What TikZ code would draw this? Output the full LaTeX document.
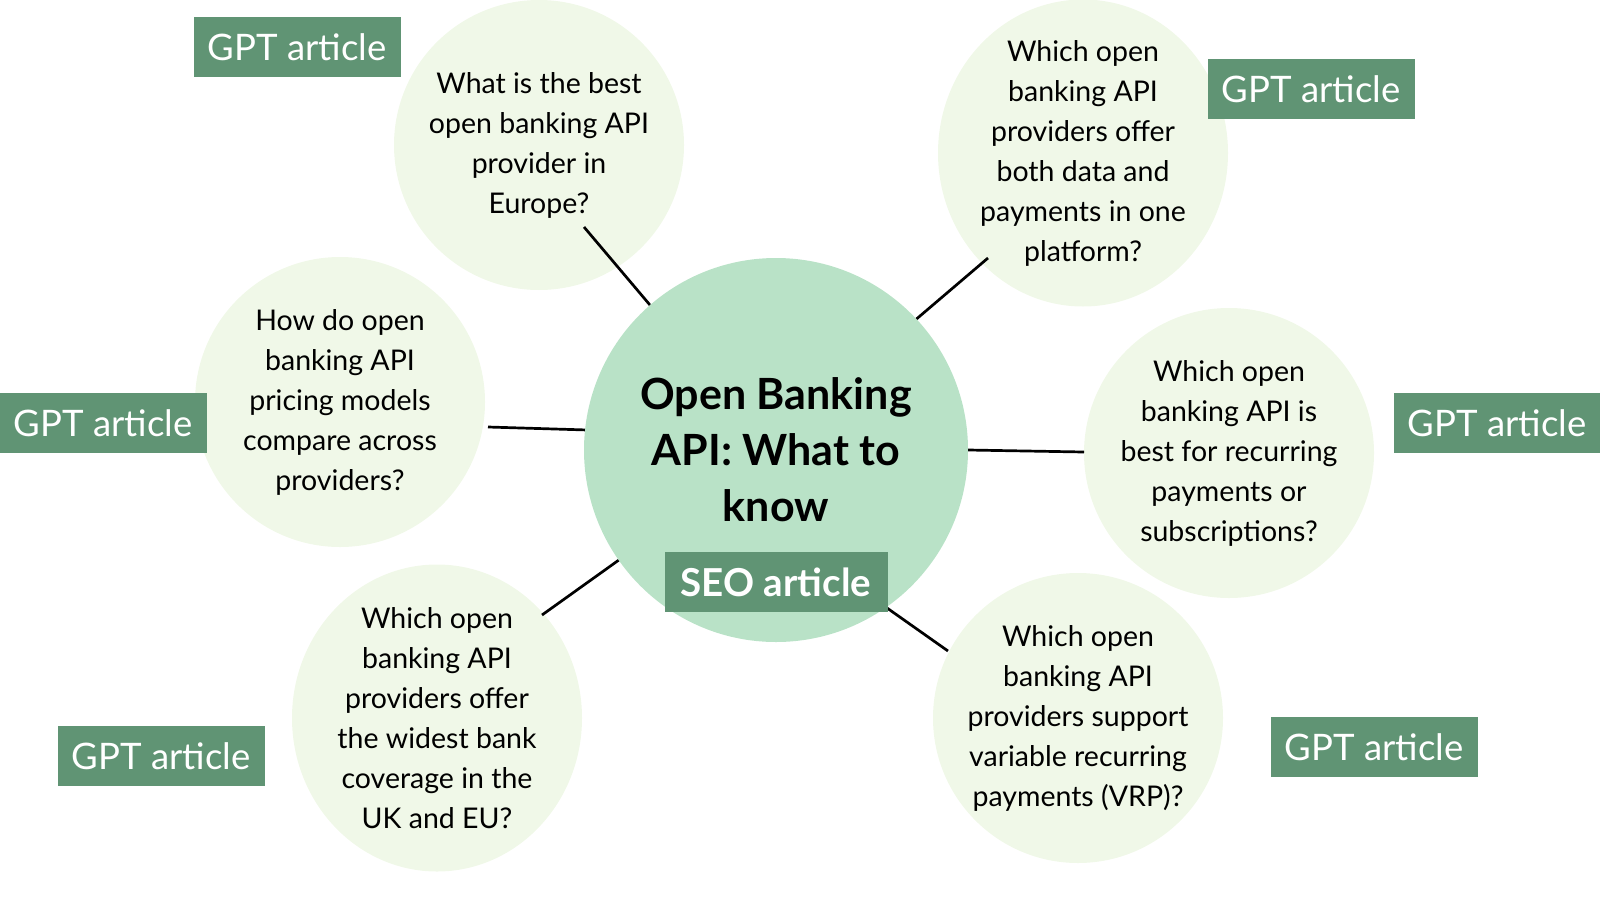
\documentclass[tikz,border=0pt]{standalone}
\usepackage{fontspec}
\setmainfont{Lato}
\usetikzlibrary{shapes.geometric}
\definecolor{hubgreen}{HTML}{B9E2C7}
\definecolor{palegreen}{HTML}{F0F8E8}
\definecolor{taggreen}{HTML}{609474}
\begin{document}
\begin{tikzpicture}[
    x=1pt, y=-1pt,
    disc/.style={circle, fill=palegreen, minimum size=290pt, inner sep=0pt},
    oval/.style={ellipse, fill=palegreen, minimum width=290pt, minimum height=307pt, inner sep=0pt},
    question/.style={align=center, inner sep=0pt, font=\fontsize{28.5}{40}\selectfont},
    hub/.style={circle, fill=hubgreen, minimum size=384pt, inner sep=0pt, align=center,
      font=\fontsize{43}{56}\selectfont\bfseries},
    tag/.style={fill=taggreen, text=white, minimum width=207pt, minimum height=60pt,
      inner sep=0pt, font=\fontsize{36.5}{40}\selectfont},
    seotag/.style={tag, minimum width=223pt, font=\fontsize{38.5}{40}\selectfont\bfseries},
    link/.style={line width=2.7pt}
  ]
  \useasboundingbox (0,0) rectangle (1600,900);
  % question bubbles
  \node[disc] (q1) at (539,145) {};
  \node[oval] (q2) at (1083,153) {};
  \node[disc] (q3) at (340,402) {};
  \node[disc] (q4) at (1229,453) {};
  \node[oval] (q5) at (437,718) {};
  \node[disc] (q6) at (1078,718) {};
  \node[question] (t1) at (q1) {What is the best\\open banking API\\provider in\\Europe?};
  \node[question] (t2) at (q2) {Which open\\banking API\\providers offer\\both data and\\payments in one\\platform?};
  \node[question] (t3) at (q3) {How do open\\banking API\\pricing models\\compare across\\providers?};
  \node[question] (t4) at (q4) {Which open\\banking API is\\best for recurring\\payments or\\subscriptions?};
  \node[question] (t5) at (q5) {Which open\\banking API\\providers offer\\the widest bank\\coverage in the\\UK and EU?};
  \node[question] (t6) at (q6) {Which open\\banking API\\providers support\\variable recurring\\payments (VRP)?};
  % centre
  \node[hub] (hub) at (776,450) {Open Banking\\API: What to\\know};
  % connector ends
  \coordinate (e1) at (584,227);
  \coordinate (e2) at (988,258);
  \coordinate (e3) at (488,427);
  \coordinate (e4) at (1084,452);
  \coordinate (e5) at (542,615);
  \coordinate (e6) at (948,651);
  \foreach \a/\e in {131/e1, 43/e2, 174/e3, 0/e4, 215/e5, -55/e6}
    \draw[link] (hub.\a) -- (\e);
  % labels
  \node[seotag] (seo) at (776,582) {SEO article};
  \node[tag] (g1) at (297,47) {GPT article};
  \node[tag] (g2) at (1311,89) {GPT article};
  \node[tag] (g3) at (103,423) {GPT article};
  \node[tag] (g4) at (1497,423) {GPT article};
  \node[tag] (g5) at (161,756) {GPT article};
  \node[tag] (g6) at (1374,747) {GPT article};
\end{tikzpicture}
\end{document}
